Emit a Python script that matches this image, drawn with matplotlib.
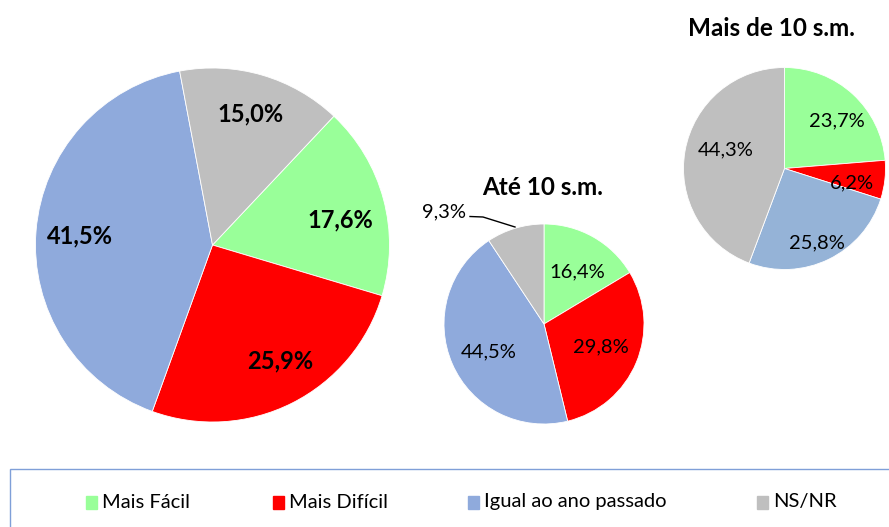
import matplotlib
matplotlib.use("Agg")
import matplotlib.pyplot as plt
from matplotlib.patches import Rectangle

plt.rcParams["font.family"] = ["Lato", "DejaVu Sans"]

W, H = 889, 527

CATEGORIES = ["Mais Fácil", "Mais Difícil", "Igual ao ano passado", "NS/NR"]
TOTAL = [17.6, 25.9, 41.5, 15.0]
ATE_10 = [16.4, 29.8, 44.5, 9.3]
MAIS_10 = [23.7, 6.2, 25.8, 44.3]
TITLE_ATE = "Até 10 s.m."
TITLE_MAIS = "Mais de 10 s.m."

COLORS = ["#99FF99", "#FF0000", "#8FAADC", "#BFBFBF"]
COLORS_RIGHT = ["#99FF99", "#FF0000", "#95B3D7", "#BFBFBF"]


def py(y):
    # pixel row (from top) -> data y
    return H - y


def fmt(v):
    return f"{v:.1f}".replace(".", ",") + "%"


def draw_pie(ax, values, colors, center, radius, start, label_pos, size, weight):
    ax.pie(values, colors=colors, center=(center[0], py(center[1])), radius=radius,
           startangle=start, counterclock=False, frame=True,
           wedgeprops=dict(linewidth=0.6, edgecolor="white"))
    for v, (x, y) in zip(values, label_pos):
        ax.text(x, py(y), fmt(v), ha="center", va="center", fontsize=size,
                fontweight=weight, color="black")


fig = plt.figure(figsize=(W / 100, H / 100), dpi=100)
ax = fig.add_axes([0, 0, 1, 1])

draw_pie(ax, TOTAL, COLORS, (212.5, 245), 177, 46.7,
         [(340, 220), (280, 361), (80, 236), (251, 114)], 17, "bold")
draw_pie(ax, ATE_10, COLORS, (544, 324), 100, 90,
         [(577, 272), (601, 347), (489, 352), (444, 212)], 14.5, "normal")
draw_pie(ax, MAIS_10, COLORS_RIGHT, (784.5, 168.5), 101, 90,
         [(837, 121), (852, 183), (817, 243), (726, 150)], 14.5, "normal")

# leader line for the small NS/NR slice
ax.plot([470, 483, 515], [py(216.5), py(217), py(227)], color="black", lw=1)

ax.text(543, py(195), TITLE_ATE, ha="center", va="baseline", fontsize=17.5, fontweight="bold")
ax.text(771, py(36), TITLE_MAIS, ha="center", va="baseline", fontsize=17.5, fontweight="bold")

# legend box, drawn by hand to match the spacing of the original
ax.add_patch(Rectangle((10, py(560)), 900, 560 - 469, fill=False,
                       edgecolor="#7F9FD8", lw=1, clip_on=False))
legend_x = [86, 273, 468, 757]
for x, label, color in zip(legend_x, CATEGORIES, COLORS):
    ax.add_patch(Rectangle((x, py(509)), 11, 13, color=color))
    ax.text(x + 16, py(502), label, ha="left", va="center", fontsize=14.5)

ax.set_xlim(0, W)
ax.set_ylim(0, H)
ax.set_aspect("equal")
ax.axis("off")

fig.savefig("out.png", dpi=100)
